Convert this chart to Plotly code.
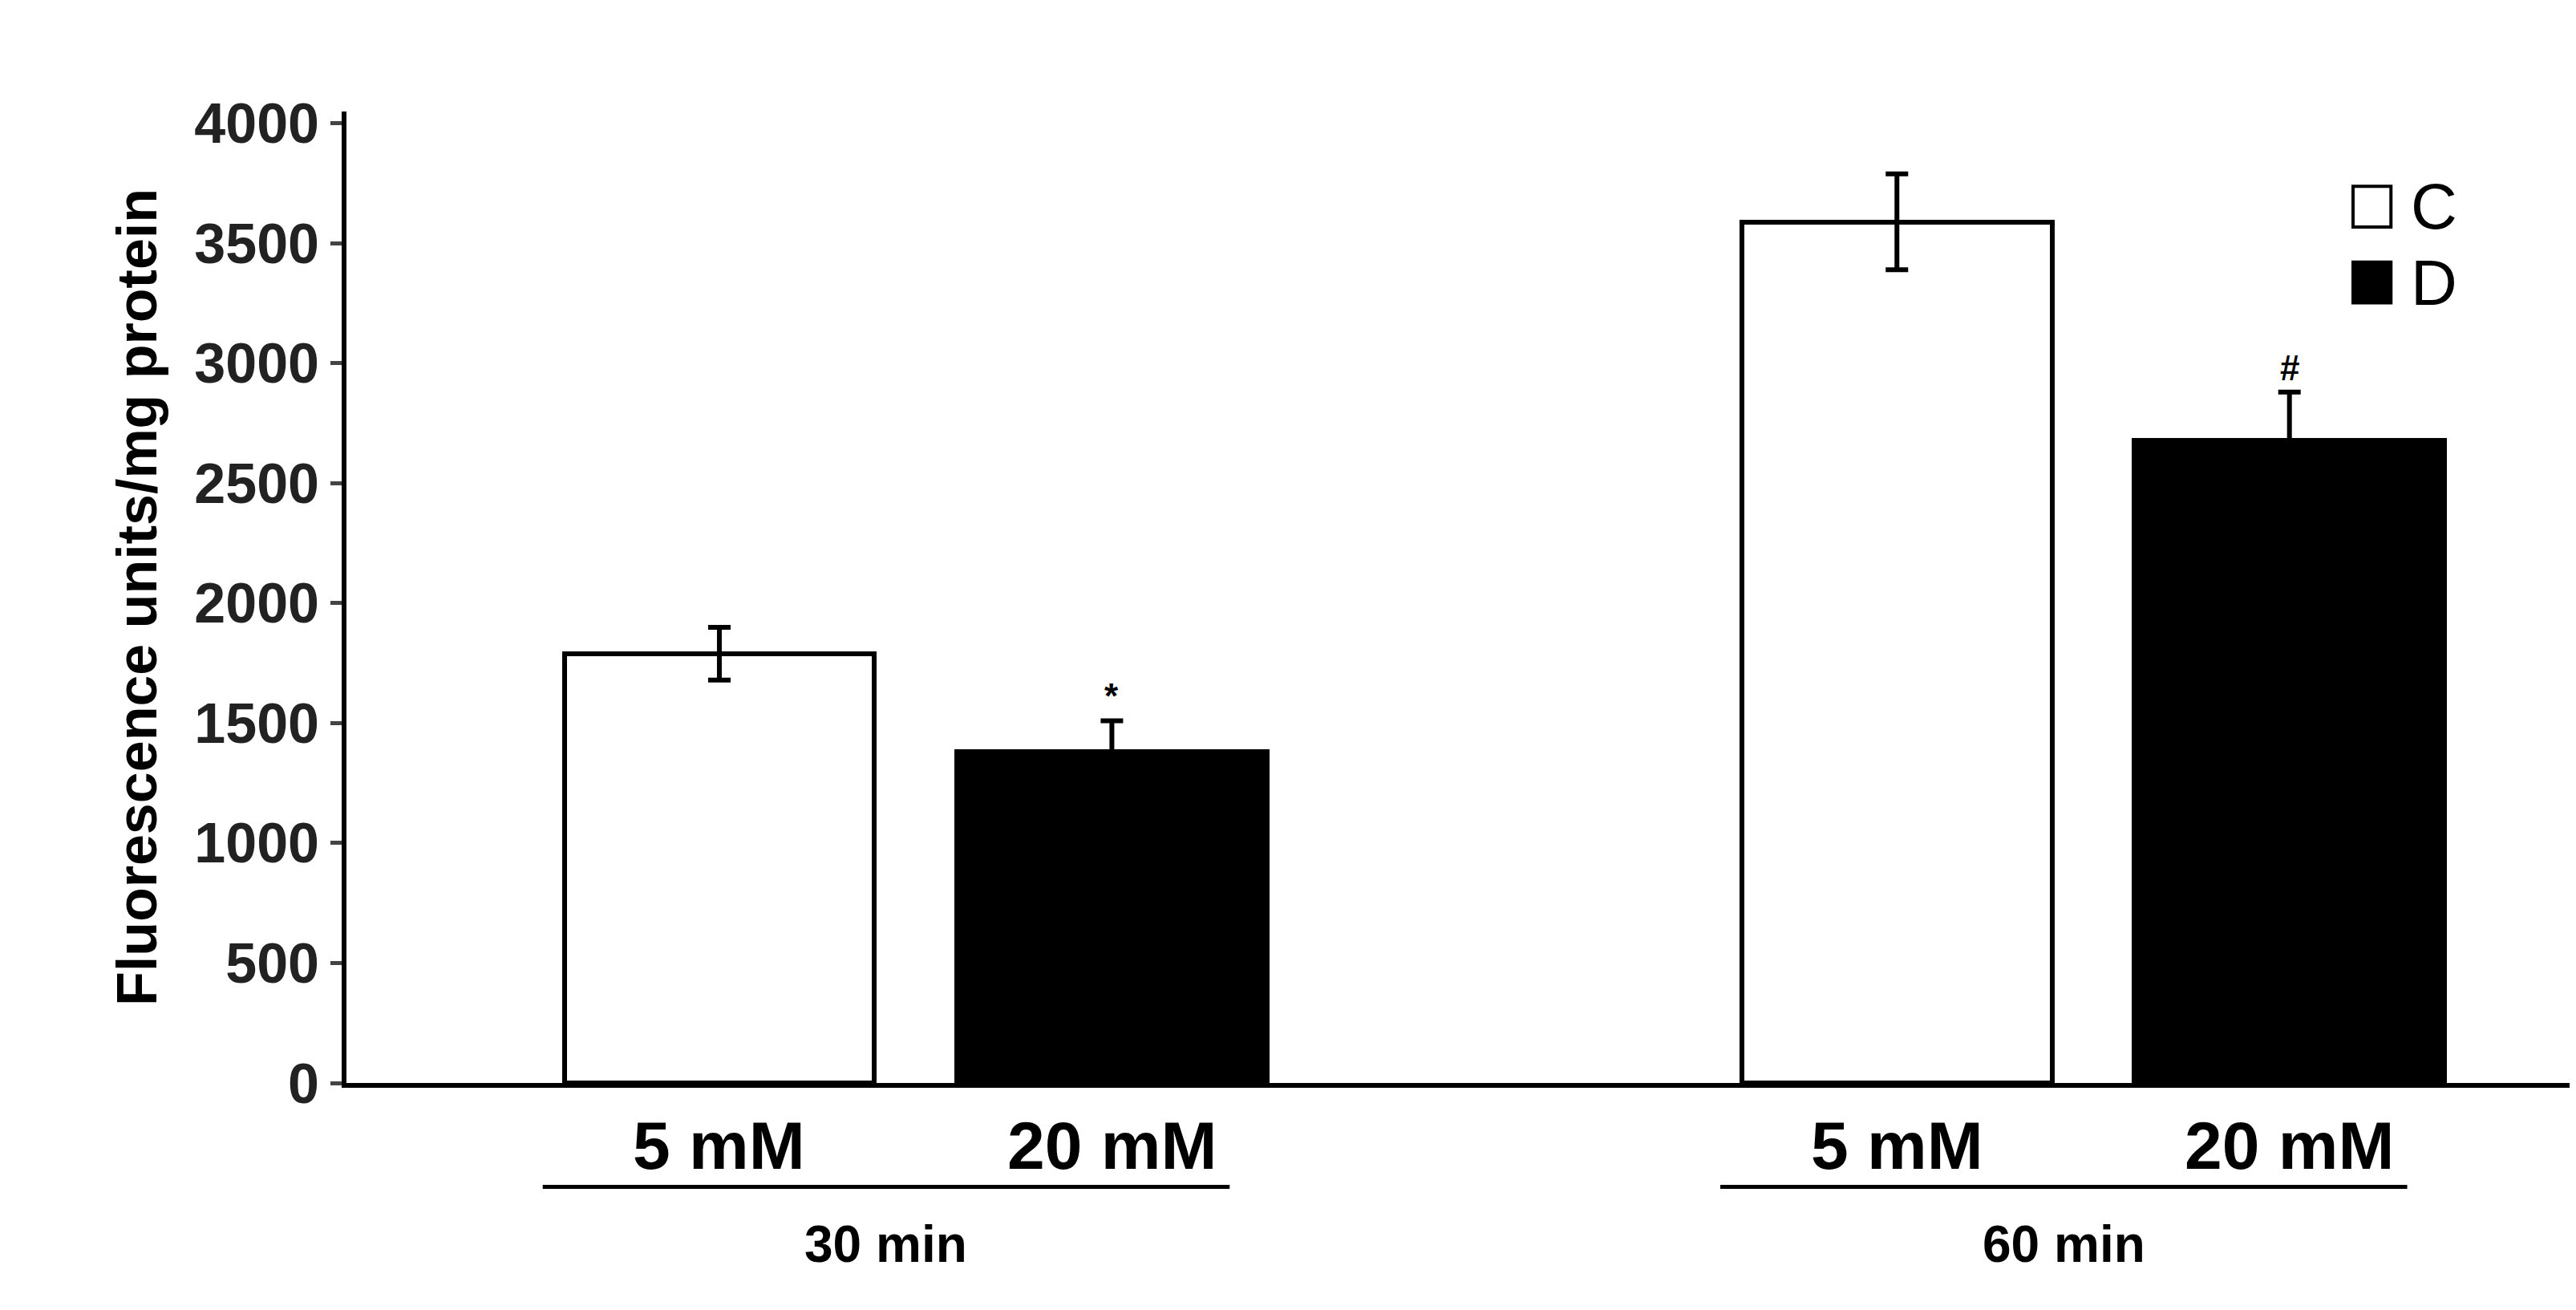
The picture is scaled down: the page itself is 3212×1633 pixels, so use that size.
import plotly.graph_objects as go

groups = ["30 min", "60 min"]
concs = ["5 mM", "20 mM"]
series = ["C", "D"]
values = [[1790, 1380], [3590, 2680]]  # [group][series]
errors = [[110, 130], [200, 200]]
marks = [["", "*"], ["", "#"]]
yticks = [0, 500, 1000, 1500, 2000, 2500, 3000, 3500, 4000]

FONT = "Liberation Sans"
GROUP_STEP = 3
fig = go.Figure()
fills = ["white", "black"]
for s, name in enumerate(series):
    xs = [g * GROUP_STEP + s for g in range(len(groups))]
    ys = [values[g][s] for g in range(len(groups))]
    es = [errors[g][s] for g in range(len(groups))]
    fig.add_trace(go.Bar(
        x=xs, y=ys, width=0.79, name=name,
        marker=dict(color=fills[s], line=dict(color="black", width=6)),
        error_y=dict(type="data", array=es, color="black", thickness=6, width=14),
        showlegend=False))
    for g in range(len(groups)):
        if marks[g][s]:
            fig.add_annotation(x=xs[g], y=ys[g] + es[g], text="<b>%s</b>" % marks[g][s],
                               showarrow=False, yanchor="bottom", yshift=4,
                               font=dict(family=FONT, size=44, color="black"))

ann_font = dict(family=FONT, size=84, color="black", weight="bold")
for g, gname in enumerate(groups):
    for s, c in enumerate(concs):
        fig.add_annotation(x=g * GROUP_STEP + s, y=-0.064, yref="paper", text=c,
                           showarrow=False, yanchor="middle", font=ann_font)
    x0 = g * GROUP_STEP - 0.45
    x1 = g * GROUP_STEP + 1.3
    fig.add_shape(type="line", xref="x", yref="paper", x0=x0, x1=x1, y0=-0.107, y1=-0.107,
                  line=dict(color="black", width=5))
    fig.add_annotation(x=(x0 + x1) / 2, y=-0.135, yref="paper", text=gname,
                       showarrow=False, yanchor="top",
                       font=dict(family=FONT, size=64, color="black", weight="bold"))

# legend
for s, name in enumerate(series):
    yy = 0.902 - s * 0.078
    fig.add_shape(type="rect", xref="paper", yref="paper",
                  x0=0.900, x1=0.917, y0=yy - 0.021, y1=yy + 0.021,
                  fillcolor=fills[s], line=dict(color="black", width=4))
    fig.add_annotation(x=0.925, y=yy, xref="paper", yref="paper", text=name,
                       showarrow=False, xanchor="left", yanchor="middle",
                       font=dict(family=FONT, size=80, color="black"))

fig.update_layout(
    width=3212, height=1633, plot_bgcolor="white", paper_bgcolor="white",
    margin=dict(l=424, r=8, t=131, b=291), bargap=0,
    font=dict(family=FONT, color="black"),
    xaxis=dict(range=[-0.95, 4.73], showticklabels=False, showgrid=False, zeroline=False,
               showline=True, linecolor="black", linewidth=6, ticks=""),
    yaxis=dict(range=[0, 4050], tickvals=yticks, showgrid=False, zeroline=False,
               showline=True, linecolor="black", linewidth=6, ticks="outside",
               ticklen=14, tickwidth=5,
               tickfont=dict(family=FONT, size=70, color="#222", weight="bold"),
               title=dict(text="Fluorescence units/mg protein", standoff=26,
                          font=dict(family=FONT, size=70, color="black", weight="bold"))),
)
fig.write_html("out.html")
